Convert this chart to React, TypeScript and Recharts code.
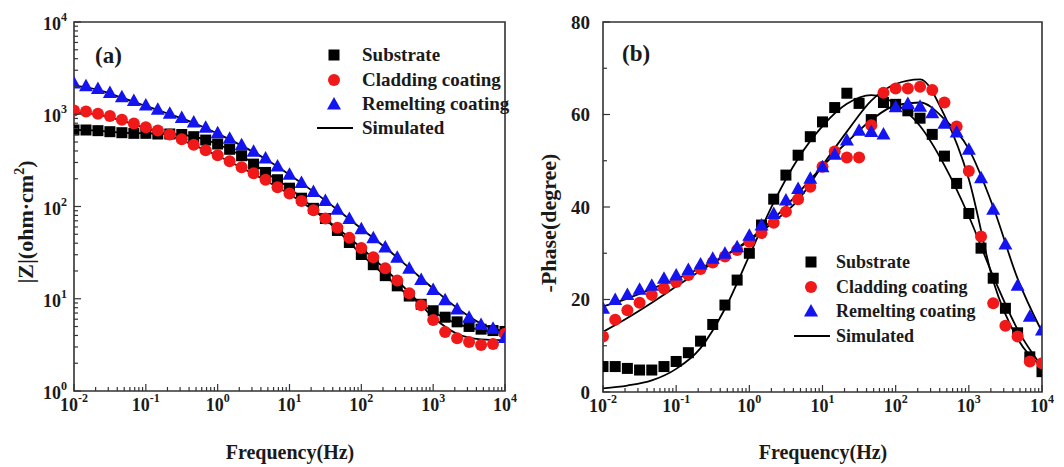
import { ComposedChart, Scatter, Line, XAxis, YAxis, ReferenceArea } from 'recharts';

// frequency grid (Hz), 6 points per decade
const frequency = [
  0.01, 0.01468, 0.02154, 0.03162, 0.04642, 0.06813, 0.1, 0.1468, 0.2154, 0.3162, 0.4642, 0.6813,
  1, 1.468, 2.154, 3.162, 4.642, 6.813, 10, 14.68, 21.54, 31.62, 46.42, 68.13,
  100, 146.8, 215.4, 316.2, 464.2, 681.3, 1000, 1468, 2154, 3162, 4642, 6813, 10000,
];
const fitFrequency = [
  0.01, 0.02154, 0.04642, 0.1, 0.2154, 0.4642, 1, 2.154, 4.642, 10,
  21.54, 46.42, 100, 215.4, 464.2, 1000, 2154, 4642, 10000,
];

// |Z| (ohm·cm2)
const zSubstrate = [
  675, 675, 664, 647, 631, 621, 621, 611, 611, 603, 571, 525, 476, 417, 355, 288, 234, 195, 158, 123,
  95.5, 74.1, 55.0, 40.7, 30.2, 23.4, 17.8, 13.8, 10.7, 8.71, 7.41, 6.31, 5.62, 5.01, 4.68, 4.52, 4.42,
];
const zCladding = [
  1096, 1072, 1012, 955, 871, 794, 724, 668, 603, 537, 468, 407, 359, 309, 266, 229, 195, 162, 138, 115,
  91.2, 74.1, 58.9, 45.7, 35.5, 28.2, 21.4, 15.8, 11.5, 8.51, 5.89, 4.37, 3.72, 3.39, 3.16, 3.24, 4.17,
];
const zRemelting = [
  2188, 2042, 1905, 1718, 1549, 1413, 1259, 1135, 1023, 923, 822, 724, 631, 550, 468, 398, 335, 275, 224, 182,
  145, 116, 93.3, 74.1, 57.5, 45.7, 36.3, 28.2, 21.4, 16.2, 12.6, 9.77, 7.76, 6.31, 5.25, 4.79, 3.8,
];
const zSubstrateFit = [676, 664, 631, 621, 611, 571, 473, 355, 234, 158, 95.5, 55.0, 30.2, 17.8, 10.7, 7.24, 5.37, 4.57, 4.27];
const zCladdingFit = [1047, 989, 851, 708, 589, 462, 355, 263, 191, 136, 91.2, 58.2, 35.5, 20.9, 11.7, 6.31, 4.17, 3.63, 3.55];
const zRemeltingFit = [2042, 1841, 1514, 1230, 1000, 804, 617, 457, 327, 221, 145, 92.3, 57.5, 35.9, 21.6, 12.9, 7.94, 5.37, 4.37];

// -Phase (degree)
const phaseSubstrate = [
  5.5, 5.5, 5.1, 4.75, 4.75, 5.5, 6.6, 8.5, 11.0, 14.6, 18.8, 24.2, 30.0, 36.1, 41.7, 46.9, 51.2, 55.2, 58.4, 61.5,
  64.6, 62.4, 58.9, 62.6, 62.2, 60.8, 59.2, 55.7, 51.0, 45.1, 38.6, 31.1, 24.6, 18.1, 12.8, 7.6, 4.4,
];
const phaseCladding = [
  12.0, 15.6, 17.7, 19.3, 21.0, 22.4, 23.8, 25.3, 26.6, 28.0, 29.3, 30.7, 32.5, 34.4, 36.6, 39.0, 41.7, 44.4, 48.7, 52.0,
  50.7, 50.7, 57.7, 64.7, 65.6, 65.6, 66.0, 65.3, 62.6, 57.4, 47.8, 33.6, 19.2, 14.3, 12.0, 6.6, 6.2,
];
const phaseRemelting = [
  18.1, 20.0, 21.1, 22.2, 23.1, 24.6, 25.3, 26.5, 27.7, 28.9, 30.0, 31.4, 33.9, 36.1, 38.6, 41.5, 44.0, 46.2, 48.7, 51.4,
  54.5, 56.6, 56.3, 55.8, 61.7, 62.4, 61.8, 60.4, 58.1, 56.2, 52.5, 46.3, 39.5, 32.0, 23.1, 16.4, 13.4,
];
const phaseSubstrateFit = [0.8, 1.4, 2.5, 5.0, 9.5, 18.0, 29.5, 41.0, 50.5, 57.5, 62.3, 64.2, 62.3, 57.5, 49.0, 38.0, 25.0, 13.5, 5.5];
const phaseCladdingFit = [13.0, 16.0, 19.3, 22.8, 26.2, 29.4, 32.7, 36.8, 41.5, 49.0, 56.3, 63.0, 66.6, 67.6, 59.8, 46.0, 24.0, 11.5, 5.5];
const phaseRemeltingFit = [18.5, 20.2, 22.3, 24.4, 26.8, 29.5, 33.0, 37.5, 43.0, 48.8, 54.0, 58.8, 62.0, 62.6, 59.0, 52.5, 40.0, 24.5, 13.0];

const seriesNames = ['Substrate', 'Cladding coating', 'Remelting coating', 'Simulated'];
const phaseTicks = [0, 10, 20, 30, 40, 50, 60, 70, 80];

const FONT = '"Liberation Serif", "Times New Roman", serif';
const AXIS = '#333';
const INK = '#1a1a1a';
const RED = '#f01818';
const BLUE = '#1414f0';

const toPoints = (xs: number[], vs: number[]) => xs.map((f, i) => ({ f, v: vs[i] }));

// tick positions for a log axis: 1..9 x 10^e
const logTicks = (lo: number, hi: number) => {
  const out: number[] = [];
  for (let e = lo; e < hi; e++) {
    for (let m = 1; m < 10; m++) out.push(Number((m * Math.pow(10, e)).toPrecision(6)));
  }
  out.push(Math.pow(10, hi));
  return out;
};
const freqTicks = logTicks(-2, 4);
const zTicks = logTicks(0, 4);

const decade = (v: number) => {
  const e = Math.log10(v);
  return Math.abs(e - Math.round(e)) < 1e-6 ? Math.round(e) : null;
};

const LogXTick = ({ x, y, payload }: any) => {
  const e = decade(payload.value);
  return (
    <g>
      <line x1={x} x2={x} y1={y} y2={y - (e !== null ? 7 : 4)} stroke={AXIS} strokeWidth={1.2} />
      {e !== null && (
        <text x={x} y={y + 20} textAnchor="middle" fontSize={18} fontFamily={FONT} fontWeight="bold" fill={INK}>
          10<tspan dy={-9} fontSize={12}>{e}</tspan>
        </text>
      )}
    </g>
  );
};

const LogYTick = ({ x, y, payload }: any) => {
  const e = decade(payload.value);
  return (
    <g>
      <line x1={x} x2={x + (e !== null ? 7 : 4)} y1={y} y2={y} stroke={AXIS} strokeWidth={1.2} />
      {e !== null && (
        <text x={x - 7} y={y + 8} textAnchor="end" fontSize={18} fontFamily={FONT} fontWeight="bold" fill={INK}>
          10<tspan dy={-9} fontSize={12}>{e}</tspan>
        </text>
      )}
    </g>
  );
};

const PhaseYTick = ({ x, y, payload }: any) => {
  const major = payload.value % 20 === 0;
  return (
    <g>
      <line x1={x} x2={x + (major ? 7 : 4)} y1={y} y2={y} stroke={AXIS} strokeWidth={1.2} />
      {major && (
        <text x={x - 13} y={y + 6.5} textAnchor="end" fontSize={19} fontFamily={FONT} fontWeight="bold" fill={INK}>
          {payload.value}
        </text>
      )}
    </g>
  );
};

const SquareDot = (p: any) => <rect x={p.cx - 5.5} y={p.cy - 5.5} width={11} height={11} fill="#000" />;
const CircleDot = (p: any) => <circle cx={p.cx} cy={p.cy} r={6} fill={RED} />;
const TriangleDot = (p: any) => (
  <polygon points={`${p.cx},${p.cy - 7} ${p.cx - 7},${p.cy + 5.5} ${p.cx + 7},${p.cy + 5.5}`} fill={BLUE} />
);

const LegendBox = ({ mx, tx, rows, size }: { mx: number; tx: number; rows: number[]; size: number }) => (
  <g fontFamily={FONT} fontWeight="bold" fontSize={size} fill={INK}>
    <SquareDot cx={mx} cy={rows[0]} />
    <CircleDot cx={mx} cy={rows[1]} />
    <TriangleDot cx={mx} cy={rows[2]} />
    <line x1={mx - 17} x2={mx + 19} y1={rows[3]} y2={rows[3]} stroke="#000" strokeWidth={1.8} />
    {seriesNames.map((name, i) => (
      <text key={name} x={tx} y={rows[i] + 6}>{name}</text>
    ))}
  </g>
);

const overlayStyle: React.CSSProperties = { position: 'absolute', left: 0, top: 0, pointerEvents: 'none' };

const ImpedancePanel = () => (
  <div style={{ position: 'absolute', left: 0, top: 0, width: 530, height: 467 }}>
    <ComposedChart width={530} height={467} margin={{ top: 22, right: 25, bottom: 26, left: 24 }}>
      <XAxis
        dataKey="f" type="number" scale="log" domain={[0.01, 10000]} allowDataOverflow
        ticks={freqTicks} interval={0} tickSize={0} tickMargin={0} tickLine={false} axisLine={false}
        tick={(p: any) => <LogXTick {...p} />} height={50}
      />
      <YAxis
        type="number" scale="log" domain={[1, 10000]} allowDataOverflow
        ticks={zTicks} interval={0} tickSize={0} tickMargin={0} tickLine={false} axisLine={false}
        tick={(p: any) => <LogYTick {...p} />} width={50}
      />
      <ReferenceArea x1={0.01} x2={10000} y1={1} y2={10000} fill="none" stroke={AXIS} strokeWidth={1.6} ifOverflow="visible" />
      <Line data={toPoints(fitFrequency, zSubstrateFit)} dataKey="v" type="monotone" stroke="#000" strokeWidth={1.8} dot={false} isAnimationActive={false} />
      <Line data={toPoints(fitFrequency, zCladdingFit)} dataKey="v" type="monotone" stroke="#000" strokeWidth={1.8} dot={false} isAnimationActive={false} />
      <Line data={toPoints(fitFrequency, zRemeltingFit)} dataKey="v" type="monotone" stroke="#000" strokeWidth={1.8} dot={false} isAnimationActive={false} />
      <Scatter data={toPoints(frequency, zSubstrate)} dataKey="v" shape={SquareDot} isAnimationActive={false} />
      <Scatter data={toPoints(frequency, zCladding)} dataKey="v" shape={CircleDot} isAnimationActive={false} />
      <Scatter data={toPoints(frequency, zRemelting)} dataKey="v" shape={TriangleDot} isAnimationActive={false} />
    </ComposedChart>
    <svg width={530} height={467} style={overlayStyle}>
      <text x={95} y={63} fontFamily={FONT} fontWeight="bold" fontSize={23} fill={INK}>(a)</text>
      <LegendBox mx={334} tx={362} rows={[55, 80, 104, 128]} size={19} />
      <text x={290} y={459} textAnchor="middle" fontFamily={FONT} fontWeight="bold" fontSize={20} fill={INK}>
        Frequency(Hz)
      </text>
      <text x={33} y={222} transform="rotate(-90 33 222)" textAnchor="middle" fontFamily={FONT} fontWeight="bold" fontSize={22} fill={INK}>
        |Z|(ohm·cm<tspan dy={-9} fontSize={14}>2</tspan><tspan dy={9}>)</tspan>
      </text>
    </svg>
  </div>
);

const PhasePanel = () => (
  <div style={{ position: 'absolute', left: 530, top: 0, width: 534, height: 467 }}>
    <ComposedChart width={534} height={467} margin={{ top: 22, right: 22, bottom: 25, left: 23 }}>
      <XAxis
        dataKey="f" type="number" scale="log" domain={[0.01, 10000]} allowDataOverflow
        ticks={freqTicks} interval={0} tickSize={0} tickMargin={0} tickLine={false} axisLine={false}
        tick={(p: any) => <LogXTick {...p} />} height={50}
      />
      <YAxis
        type="number" domain={[0, 80]} allowDataOverflow
        ticks={phaseTicks} interval={0} tickSize={0} tickMargin={0} tickLine={false} axisLine={false}
        tick={(p: any) => <PhaseYTick {...p} />} width={50}
      />
      <ReferenceArea x1={0.01} x2={10000} y1={0} y2={80} fill="none" stroke={AXIS} strokeWidth={1.6} ifOverflow="visible" />
      <Line data={toPoints(fitFrequency, phaseSubstrateFit)} dataKey="v" type="monotone" stroke="#000" strokeWidth={1.8} dot={false} isAnimationActive={false} />
      <Line data={toPoints(fitFrequency, phaseCladdingFit)} dataKey="v" type="monotone" stroke="#000" strokeWidth={1.8} dot={false} isAnimationActive={false} />
      <Line data={toPoints(fitFrequency, phaseRemeltingFit)} dataKey="v" type="monotone" stroke="#000" strokeWidth={1.8} dot={false} isAnimationActive={false} />
      <Scatter data={toPoints(frequency, phaseSubstrate)} dataKey="v" shape={SquareDot} isAnimationActive={false} />
      <Scatter data={toPoints(frequency, phaseCladding)} dataKey="v" shape={CircleDot} isAnimationActive={false} />
      <Scatter data={toPoints(frequency, phaseRemelting)} dataKey="v" shape={TriangleDot} isAnimationActive={false} />
    </ComposedChart>
    <svg width={534} height={467} style={overlayStyle}>
      <text x={92} y={61} fontFamily={FONT} fontWeight="bold" fontSize={23} fill={INK}>(b)</text>
      <LegendBox mx={281} tx={306} rows={[262, 287, 311, 336]} size={18} />
      <text x={293} y={459} textAnchor="middle" fontFamily={FONT} fontWeight="bold" fontSize={20} fill={INK}>
        Frequency(Hz)
      </text>
      <text x={26} y={223} transform="rotate(-90 26 223)" textAnchor="middle" fontFamily={FONT} fontWeight="bold" fontSize={22} fill={INK}>
        -Phase(degree)
      </text>
    </svg>
  </div>
);

export default function App() {
  return (
    <div style={{ position: 'absolute', left: 0, top: 0, width: 1064, height: 467, background: '#fff', overflow: 'hidden' }}>
      <ImpedancePanel />
      <PhasePanel />
    </div>
  );
}
